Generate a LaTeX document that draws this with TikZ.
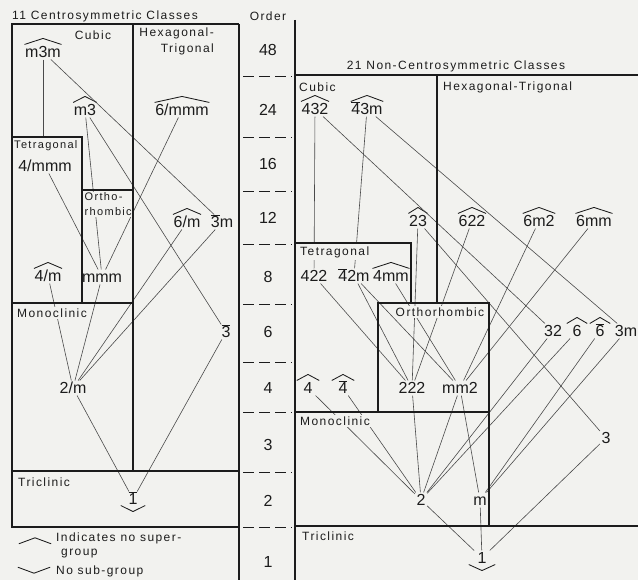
\documentclass[tikz,border=0pt]{standalone}
\usepackage{fontspec}
\setmainfont{Liberation Sans}
\usepackage{xcolor}
\usepackage{tikz}
\definecolor{cgPaper}{HTML}{F2F2EF}
\definecolor{cgInk}{HTML}{1C1C1C}
\definecolor{cgLine}{HTML}{4A4A4A}
\newfontfamily\cgTagFont[LetterSpace=12]{Liberation Sans}
\newcommand{\barred}[1]{\ensuremath{\overline{\mbox{#1}}}}

\begin{document}
\begin{tikzpicture}[
  x=1pt, y=-1pt,
  grp/.style={font=\fontsize{16}{17}\selectfont, text=cgInk, inner sep=1.5pt, text height=11.7pt, text depth=0pt},
  ordnum/.style={font=\fontsize{16}{17}\selectfont, text=cgInk, text height=11.7pt, text depth=0pt},
  region/.style={font=\cgTagFont\fontsize{12}{14}\selectfont, text=cgInk, fill=cgPaper, inner sep=2pt, align=left},
  frame/.style={draw=cgInk, line width=1.4pt},
  divider/.style={draw=cgInk, line width=0.9pt, dash pattern=on 11pt off 5pt},
  link/.style={draw=cgLine, line width=0.6pt},
  hatline/.style={draw=cgInk, line width=0.85pt},
  nosup/.style={append after command={
    ([xshift=1pt]\tikzlastnode.north west) edge[hatline] ([yshift=6pt]\tikzlastnode.north)
    ([yshift=6pt]\tikzlastnode.north) edge[hatline] ([xshift=-1pt]\tikzlastnode.north east)}},
  nosub/.style={append after command={
    ([yshift=1pt]\tikzlastnode.south west) edge[hatline] ([yshift=-5pt]\tikzlastnode.south)
    ([yshift=-5pt]\tikzlastnode.south) edge[hatline] ([yshift=1pt]\tikzlastnode.south east)}}
]
\useasboundingbox[fill=cgPaper] (0,0) rectangle (638,580);

% headings
\node[region, fill=none, anchor=base west, inner sep=0pt] (titleL) at (12,20) {11 Centrosymmetric Classes};
\node[region, fill=none] (order) at (268,16) {Order};
\node[region, fill=none, anchor=base] (titleR) at (456,70) {21 Non-Centrosymmetric Classes};

% order column
\node[ordnum] (o48) at (268,50) {48};
\node[ordnum] (o24) at (268,110) {24};
\node[ordnum] (o16) at (268,164) {16};
\node[ordnum] (o12) at (268,218) {12};
\node[ordnum] (o8) at (268,277) {8};
\node[ordnum] (o6) at (268,332) {6};
\node[ordnum] (o4) at (268,388) {4};
\node[ordnum] (o3) at (268,445) {3};
\node[ordnum] (o2) at (268,501) {2};
\node[ordnum] (o1) at (268,562) {1};

% centrosymmetric classes
\node[grp, nosup] (gm3m) at (43,52) {m3m};
\node[grp, nosup] (gm3) at (85,110) {m3};
\node[grp, nosup] (g6mmm) at (182,110) {6/mmm};
\node[grp] (g4mmm) at (45,166) {4/mmm};
\node[grp, nosup] (g6m) at (187,222) {6/m};
\node[grp] (g3bm) at (222,222) {\barred{3}m};
\node[grp, nosup] (g4m) at (48,276) {4/m};
\node[grp] (gmmm) at (102,277) {mmm};
\node[grp] (g3b) at (226,332) {\barred{3}};
\node[grp] (g2m) at (73,388) {2/m};
\node[grp, nosub, minimum width=24pt] (g1b) at (133,499) {\barred{1}};
\coordinate (tettop) at (12,137);

% non-centrosymmetric classes
\node[grp, nosup] (g432) at (315,109) {432};
\node[grp, nosup] (g4b3m) at (367,109) {\barred{4}3m};
\node[grp, nosup] (g23) at (418,221) {23};
\node[grp, nosup] (g622) at (472,221) {622};
\node[grp, nosup] (g6m2) at (539,221) {6m2};
\node[grp, nosup] (g6mm) at (594,221) {6mm};
\node[grp] (g422) at (314,276) {422};
\node[grp] (g4b2m) at (354,276) {\barred{4}2m};
\node[grp, nosup] (g4mm) at (391,276) {4mm};
\node[grp] (g32) at (553,331) {32};
\node[grp, nosup, minimum width=22pt] (g6) at (577,331) {6};
\node[grp, nosup, minimum width=22pt] (g6b) at (600,331) {\barred{6}};
\node[grp] (g3m) at (626,331) {3m};
\node[grp, nosup, minimum width=24pt] (g4) at (308,388) {4};
\node[grp, nosup, minimum width=24pt] (g4b) at (343,388) {\barred{4}};
\node[grp] (g222) at (412,388) {222};
\node[grp] (gmm2) at (460,388) {mm2};
\node[grp] (g3) at (606,438) {3};
\node[grp] (g2) at (421,500) {2};
\node[grp] (gm) at (480,500) {m};
\node[grp, nosub, minimum width=26pt] (g1) at (482,558) {1};

% subgroup links, left
\draw[link] (gm3m) -- (gm3m |- tettop);
\draw[link] (gm3m) -- (g3bm);
\draw[link] (gm3) -- (gmmm);
\draw[link] (gm3) -- (g3b);
\draw[link] (g6mmm) -- (gmmm);
\draw[link] (g4mmm) -- (gmmm);
\draw[link] (g4m) -- (g2m);
\draw[link] (gmmm) -- (g2m);
\draw[link] (g6m) -- (g2m);
\draw[link] (g3bm) -- (g2m);
\draw[link] (g3b) -- (g1b);
\draw[link] (g2m) -- (g1b);

% subgroup links, right
\draw[link] (g432) -- (g422);
\draw[link] (g432) -- (g32);
\draw[link] (g4b3m) -- (g4b2m);
\draw[link] (g4b3m) -- (g3m);
\draw[link] (g23) -- (g222);
\draw[link] (g23) -- (g3);
\draw[link] (g622) -- (g222);
\draw[link] (g6m2) -- (gmm2);
\draw[link] (g6mm) -- (gmm2);
\draw[link] (g422) -- (g222);
\draw[link] (g4b2m) -- (g222);
\draw[link] (g4b2m) -- (gmm2);
\draw[link] (g4mm) -- (gmm2);
\draw[link] (g32) -- (g2);
\draw[link] (g6) -- (g2);
\draw[link] (g6b) -- (gm);
\draw[link] (g3m) -- (gm);
\draw[link] (g4) -- (g2);
\draw[link] (g4b) -- (g2);
\draw[link] (g222) -- (g2);
\draw[link] (gmm2) -- (g2);
\draw[link] (gmm2) -- (gm);
\draw[link] (g2) -- (g1);
\draw[link] (gm) -- (g1);
\draw[link] (g3) -- (g1);

% system labels
\node[region, fill=none] (cubicL) at (93,35) {Cubic};
\node[region, fill=none, anchor=north east, align=right] (hexL) at (216,26) {Hexagonal-\\[2pt]Trigonal};
\node[region, anchor=west, inner sep=1pt, font=\cgTagFont\fontsize{11}{13}\selectfont] (tetL) at (13,146) {Tetragonal};
\node[region, anchor=north west, inner sep=1pt, font=\cgTagFont\fontsize{11}{15}\selectfont] (orthoL) at (83.5,191.5) {Ortho-\\rhombic};
\node[region, anchor=west] (monoL) at (15,313) {Monoclinic};
\node[region, fill=none, anchor=west] (triL) at (16,482) {Triclinic};
\node[region, fill=none, anchor=west] (cubicR) at (297,87) {Cubic};
\node[region, fill=none, anchor=west] (hexR) at (441,87) {Hexagonal-Trigonal};
\node[region, anchor=west] (tetR) at (298,252) {Tetragonal};
\node[region] (orthoR) at (440,312) {Orthorhombic};
\node[region, anchor=west] (monoR) at (298,421) {Monoclinic};
\node[region, fill=none, anchor=west] (triR) at (300,536) {Triclinic};

% key
\node[nosup, minimum width=34pt, minimum height=0pt, inner sep=0pt] (supkey) at (35,544) {};
\node[region, fill=none, anchor=north west] (supnote) at (54,531) {Indicates no super-\\\hspace*{5pt}group};
\node[nosub, minimum width=32pt, minimum height=0pt, inner sep=0pt] (subkey) at (34,568) {};
\node[region, fill=none, anchor=west] (subnote) at (54,571) {No sub-group};

% frames
\draw[frame] (239,24) -- (12,24) -- (12,527) -- (239,527);
\draw[frame] (239,24) -- (239,580);
\draw[frame] (295,20) -- (295,580);
\draw[frame] (133,24) -- (133,471);
\draw[frame] (12,137) -- (82,137) -- (82,303);
\draw[frame] (82,190) -- (133,190);
\draw[frame] (12,303) -- (133,303);
\draw[frame] (12,471) -- (239,471);
\draw[frame] (295,75) -- (638,75);
\draw[frame] (437,75) -- (437,303);
\draw[frame] (295,243) -- (411,243) -- (411,303);
\draw[frame] (378,412) -- (378,303) -- (489,303) -- (489,526);
\draw[frame] (295,412) -- (489,412);
\draw[frame] (295,526) -- (638,526);
\draw[divider] (243,76) -- (292,76) (243,137) -- (292,137) (243,191) -- (292,191)
  (243,244) -- (292,244) (243,304) -- (292,304) (243,362) -- (292,362)
  (243,412) -- (292,412) (243,472) -- (292,472) (243,527) -- (292,527);
\end{tikzpicture}
\end{document}
